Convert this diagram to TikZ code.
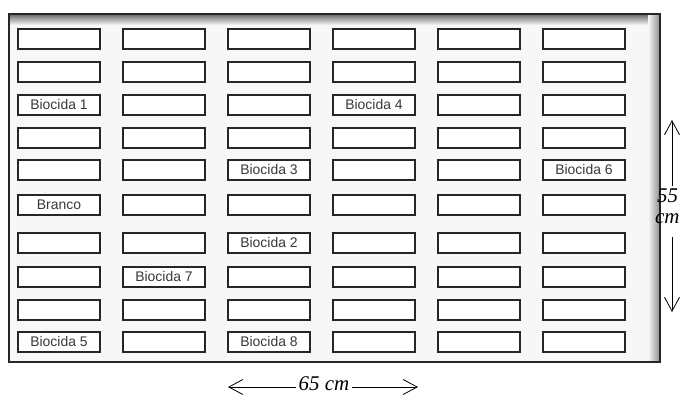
\documentclass[tikz,border=0pt]{standalone}
\usepackage{fontspec}
\setmainfont{Liberation Sans}
\newfontfamily\dimfont{Liberation Serif}
\usetikzlibrary{arrows.meta}
\expandafter\def\csname lab3-1\endcsname{Biocida 1}
\expandafter\def\csname lab3-4\endcsname{Biocida 4}
\expandafter\def\csname lab5-3\endcsname{Biocida 3}
\expandafter\def\csname lab5-6\endcsname{Biocida 6}
\expandafter\def\csname lab6-1\endcsname{Branco}
\expandafter\def\csname lab7-3\endcsname{Biocida 2}
\expandafter\def\csname lab8-2\endcsname{Biocida 7}
\expandafter\def\csname lab10-1\endcsname{Biocida 5}
\expandafter\def\csname lab10-3\endcsname{Biocida 8}
\begin{document}
\begin{tikzpicture}[x=1bp,y=-1bp,
  plotbox/.style={draw=black!85, line width=1.3bp, fill=white, minimum width=82bp,
    minimum height=20bp, inner sep=0pt, font=\fontsize{14}{14}\selectfont, text=black!78},
  dimline/.style={draw=black, line width=0.8bp, -{Straight Barb[length=14bp,width=15bp,line width=0.8bp]}},
  dimlabel/.style={font=\dimfont\itshape\fontsize{21}{21}\selectfont, inner xsep=3bp, inner ysep=0pt}]
\clip (0,0) rectangle (682,394);
\fill[white] (0,0) rectangle (682,394);
% field
\fill[black!3] (9,14) rectangle (660,362);
\shade[top color=black!60, bottom color=black!3] (9,14) rectangle (660,25);
\shade[left color=black!3, right color=black!45] (648,14) rectangle (660,362);
\draw[black!85, line width=1.4bp] (9,14) rectangle (660,362);
% plots
\foreach \r/\y in {1/39,2/72,3/105,4/138,5/170,6/205,7/243,8/277,9/310,10/342}{
  \foreach \c in {1,...,6}{
    \node[plotbox] (b-\r-\c) at ({59+105*(\c-1)},\y)
      {\ifcsname lab\r-\c\endcsname\csname lab\r-\c\endcsname\fi};
  }
}
% horizontal dimension
\coordinate (hL) at (228,387);
\coordinate (hR) at (418,387);
\node[dimlabel] (hlab) at (324,384) {65 cm};
\draw[dimline] (hlab.west |- hL) -- (hL);
\draw[dimline] (hlab.east |- hR) -- (hR);
% vertical dimension
\coordinate (vT) at (672,120);
\coordinate (vB) at (672,312);
\coordinate (vT0) at (672,186);
\coordinate (vB0) at (672,237);
\node[dimlabel, anchor=base west, inner sep=0pt] (vlab1) at (657,202) {55};
\node[dimlabel, anchor=base west, inner sep=0pt] (vlab2) at (655,223) {cm};
\draw[dimline] (vT0) -- (vT);
\draw[dimline] (vB0) -- (vB);
\end{tikzpicture}
\end{document}
